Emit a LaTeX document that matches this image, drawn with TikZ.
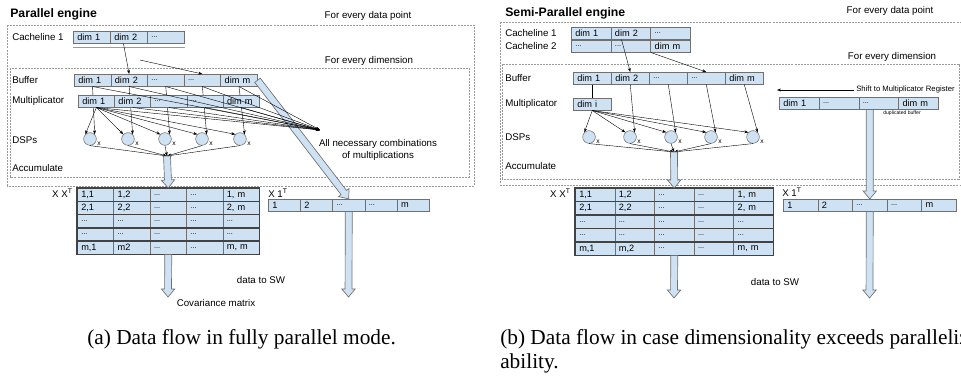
\documentclass[tikz,border=0pt]{standalone}
\usepackage{fontspec}
\setmainfont{Liberation Serif}
\setsansfont{Liberation Sans}
\usepackage{tikz}
\usetikzlibrary{calc,arrows.meta}
\usepackage{pgf,pgffor}

\definecolor{cellfill}{HTML}{CFE2F3}
\definecolor{cellline}{HTML}{707070}
\definecolor{rowline}{HTML}{434343}
\definecolor{boxline}{HTML}{9A9A9A}

\tikzset{
  lbl/.style={font=\sffamily\fontsize{7.3}{8.6}\selectfont, inner sep=0pt},
  title/.style={font=\sffamily\bfseries\fontsize{9.2}{11}\selectfont, anchor=west, inner sep=0pt},
  cell/.style={draw=cellline, fill=cellfill, line width=0.4pt, anchor=north west,
    inner xsep=3pt, inner ysep=0pt, text width=#1, align=left,
    font=\sffamily\fontsize{6.9}{8}\selectfont},
  dsp/.style={draw=cellline, fill=cellfill, circle, minimum size=9.5pt, inner sep=0pt, line width=0.4pt},
  xmark/.style={font=\sffamily\fontsize{5}{5}\selectfont, inner sep=0pt},
  tinytext/.style={font=\sffamily\fontsize{3.8}{4}\selectfont, inner sep=0pt},
  shifttext/.style={font=\sffamily\fontsize{5.8}{6.5}\selectfont, inner sep=1.5pt},
  loopbox/.style={draw=boxline, dash pattern=on 1.5pt off 0.8pt, line width=0.6pt},
  rowedge/.style={draw=rowline, line width=0.8pt},
  shadowline/.style={draw=cellline!70, line width=0.5pt},
  wire/.style={draw=black, line width=0.3pt},
  tip/.style={wire, -{Stealth[length=3pt, width=2.2pt]}},
  flow/.style={draw=cellline, fill=cellfill, line width=0.5pt},
  captext/.style={font=\fontsize{16}{19}\selectfont, anchor=base west, inner sep=0pt}
}

\newcommand{\skipped}{{\fontsize{5.5}{6}\selectfont...}}
\newcommand{\cellrow}[6]{%
  \pgfmathsetmacro\cw{#4*0.75-6}%
  \foreach \entry [count=\i] in {#6} {
    \node[cell=\cw pt, minimum height=#5*0.75pt] (#1\i) at ({#2+(\i-1)*#4},#3) {\entry};
  }}
\newcommand{\flowarrow}[2]{%
  \path[flow] let \p1=($(#2)-(#1)$), \n1={atan2(\y1,\x1)}, \n2={veclen(\x1,\y1)} in
    [shift={(#1)}, rotate=\n1]
    (0pt,-2.6pt) -- ({\n2-6pt},-2.6pt) -- ({\n2-6pt},-5pt) -- ({\n2*1pt},0pt)
    -- ({\n2-6pt},5pt) -- ({\n2-6pt},2.6pt) -- (0pt,2.6pt) -- cycle;}

\begin{document}
\begin{tikzpicture}[x=0.75pt, y=-0.75pt]
\useasboundingbox (0,0) rectangle (961,377);
\clip (0,0) rectangle (961,377);

\draw[loopbox] (7,25) rectangle (474,186);
\draw[loopbox] (10,68) rectangle (469,177);
\node[title] (ptitle) at (10,14) {Parallel engine};
\node[lbl] (pdata) at (368,16) {For every data point};
\node[lbl] (pdim) at (369,61) {For every dimension};
\node[lbl, anchor=west] (pcache) at (12,37) {Cacheline 1};
\node[lbl, anchor=west] (pbuf) at (12,80) {Buffer};
\node[lbl, anchor=west] (pmul) at (12,101) {Multiplicator};
\node[lbl, anchor=west] (pdsps) at (12,140) {DSPs};
\node[lbl, anchor=west] (pacc) at (12,168) {Accumulate};

\cellrow{cl}{73}{31}{37}{12}{dim 1,dim 2,\skipped}
\draw[shadowline] ([yshift=-3pt]cl1.south west) -- ([yshift=-3pt]cl3.south east);
\cellrow{buf}{74}{74}{36.6}{12}{dim 1,dim 2,\skipped,\skipped,dim m}

\node[lbl, anchor=east] (pxx) at (73,193) {X X\textsuperscript{T}};
\node[lbl, anchor=west] (pones) at (268,193) {X 1\textsuperscript{T}};
\cellrow{xxa}{77}{188}{36.4}{13.2}{{1,1},{1,2},\skipped,\skipped,{1, m}}
\cellrow{xxb}{77}{201.2}{36.4}{13.2}{{2,1},{2,2},\skipped,\skipped,{2, m}}
\cellrow{xxc}{77}{214.4}{36.4}{13.2}{\skipped,\skipped,\skipped,\skipped,\skipped}
\cellrow{xxd}{77}{227.6}{36.4}{13.2}{\skipped,\skipped,\skipped,\skipped,\skipped}
\cellrow{xxe}{77}{240.8}{36.4}{13.2}{{m,1},m2,\skipped,\skipped,{m, m}}
\foreach \r in {a,b,c,d,e} \draw[rowedge] (xx\r1.north west) rectangle (xx\r5.south east);
\cellrow{ones}{268}{199}{32.2}{12}{1,2,\skipped,\skipped,m}

\coordinate (combo) at (320,130);
\coordinate (acc) at (167,156);
\coordinate (spare) at (140,60);
\coordinate (covout) at (168,297);
\coordinate (swout) at (348.5,297);

\foreach \x [count=\i] in {90,128,165,202,240} {
  \node[dsp] (dsp\i) at (\x,139) {};
  \node[xmark] (dspx\i) at (\x+9,144) {x};
  \draw[tip] (buf\i.south) -- (dsp\i.north east);
}
\cellrow{mul}{78}{95}{36.2}{12}{dim 1,dim 2,\skipped,\skipped,dim m}
\flowarrow{buf5.east}{ones3.north}
\foreach \i in {1,...,5} {
  \draw[tip] (mul1.south) -- (dsp\i.north west);
  \draw[tip] (buf\i.south) -- (combo);
  \draw[tip] (mul\i.south) -- (combo);
  \draw[tip] (dsp\i.south) -- (acc);
}
\draw[tip] ([xshift=-4pt]cl2.south) -- (buf2.north);
\draw[tip] (spare) -- (buf4.north);
\node[lbl, align=center] (pcombo) at (378,150) {All necessary combinations\\of multiplications};

\flowarrow{acc}{xxa3.north}
\flowarrow{xxe3.south}{covout}
\flowarrow{ones3.south}{swout}
\node[lbl] (psw) at (261,280) {data to SW};
\node[lbl] (pcov) at (216,303) {Covariance matrix};

\draw[loopbox] (500,22) rectangle (968,185);
\draw[loopbox] (502,64) rectangle (959,179);
\node[title] (stitle) at (505,13) {Semi-Parallel engine};
\node[lbl] (sdata) at (890,11) {For every data point};
\node[lbl] (sdim) at (892,57) {For every dimension};
\node[lbl, anchor=west] (scachea) at (505,33) {Cacheline 1};
\node[lbl, anchor=west] (scacheb) at (505,46) {Cacheline 2};
\node[lbl, anchor=west] (sbuf) at (505,78) {Buffer};
\node[lbl, anchor=west] (smul) at (505,104) {Multiplicator};
\node[lbl, anchor=west] (sdsps) at (505,137) {DSPs};
\node[lbl, anchor=west] (sacc) at (505,166) {Accumulate};

\cellrow{rcla}{571}{27}{39.7}{12}{dim 1,dim 2,\skipped}
\cellrow{rclb}{571}{40}{39.7}{12}{\skipped,\skipped,dim m}
\cellrow{rbuf}{573}{72}{38}{12}{dim 1,dim 2,\skipped,\skipped,dim m}
\cellrow{rmul}{573}{98}{38}{12}{dim i}
\cellrow{dup}{779}{97}{39.75}{12}{dim 1,\skipped,\skipped,dim m}
\node[tinytext] (duptxt) at (902,113) {duplicated buffer};
\node[shifttext, anchor=west] (shifttxt) at (854,90) {Shift to Multiplicator Register};
\coordinate (shiftend) at (777,90);
\draw[tip] (shifttxt.west) -- (shiftend);

\node[lbl, anchor=east] (sxx) at (571,193) {X X\textsuperscript{T}};
\node[lbl, anchor=west] (sones) at (782,192) {X 1\textsuperscript{T}};
\cellrow{rxxa}{575}{188}{39.6}{13.4}{{1,1},{1,2},\skipped,\skipped,{1, m}}
\cellrow{rxxb}{575}{201.4}{39.6}{13.4}{{2,1},{2,2},\skipped,\skipped,{2, m}}
\cellrow{rxxc}{575}{214.8}{39.6}{13.4}{\skipped,\skipped,\skipped,\skipped,\skipped}
\cellrow{rxxd}{575}{228.2}{39.6}{13.4}{\skipped,\skipped,\skipped,\skipped,\skipped}
\cellrow{rxxe}{575}{241.6}{39.6}{13.4}{{m,1},{m,2},\skipped,\skipped,{m, m}}
\foreach \r in {a,b,c,d,e} \draw[rowedge] (rxx\r1.north west) rectangle (rxx\r5.south east);
\cellrow{rones}{783}{199}{34.6}{12}{1,2,\skipped,\skipped,m}

\coordinate (racc) at (674,152);
\coordinate (rcovout) at (674,298);
\coordinate (rswout) at (869.5,298);
\coordinate (dupout) at (rones3.north |- dup3.south);

\foreach \x [count=\i] in {589,630,671,711,753} {
  \node[dsp] (rdsp\i) at (\x,137) {};
  \node[xmark] (rdspx\i) at (\x+9,142) {x};
}
\draw[wire] (rbuf1.south) -- (rmul1.north);
\foreach \i in {2,...,5} \draw[tip] (rbuf\i.south) -- (rdsp\i.north east);
\foreach \i in {1,...,5} {
  \draw[tip] (rmul1.south) -- (rdsp\i.north west);
  \draw[tip] (rdsp\i.south) -- (racc);
}
\draw[tip] ([xshift=-7pt]rcla2.south) -- (rbuf2.north);
\draw[tip] (rclb2.south east) -- (rbuf4.north);

\flowarrow{racc}{rxxa3.north}
\flowarrow{rxxe3.south}{rcovout}
\flowarrow{dupout}{rones3.north}
\flowarrow{rones3.south}{rswout}
\node[lbl] (ssw) at (775,282) {data to SW};

\node[captext] (capa) at (87,345) {(a) Data flow in fully parallel mode.};
\node[captext] (capb) at (500,345) {(b) Data flow in case dimensionality exceeds paralleliz-};
\node[captext] (capc) at (500,369) {ability.};
\end{tikzpicture}
\end{document}
